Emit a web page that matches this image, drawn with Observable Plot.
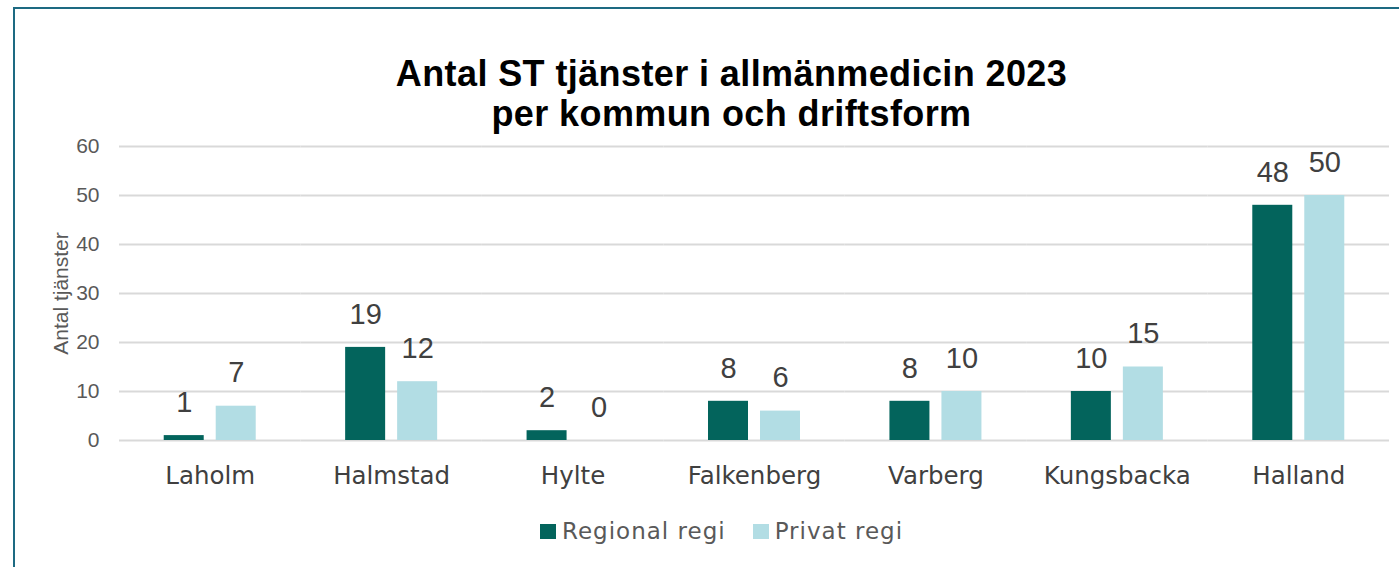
<!DOCTYPE html>
<html>
<head>
<meta charset="utf-8">
<script src="https://cdn.jsdelivr.net/npm/d3@7"></script>
<script src="https://cdn.jsdelivr.net/npm/@observablehq/plot@0.6"></script>
<style>
  html, body { margin: 0; padding: 0; background: #fff; }
  #wrap { position: relative; width: 1399px; height: 567px; overflow: hidden; background: #fff; }
  #frame { position: absolute; left: 13px; top: 7px; width: 1420px; height: 620px; border: 2px solid #1d6a82; box-sizing: border-box; }
  #title { position: absolute; left: 0; top: 54px; width: 1463px; text-align: center;
           font-family: "Liberation Sans", Arial, sans-serif; font-weight: bold; font-size: 36px; line-height: 40px; color: #000; letter-spacing: 0.4px; }
  #chart { position: absolute; left: 0; top: 130px; }
  #legend { position: absolute; left: 540px; top: 515px; height: 32px; display: flex; align-items: center;
            font-family: "DejaVu Sans", sans-serif; font-size: 23px; color: #595959; letter-spacing: 1px; }
  .sw { width: 16px; height: 15px; margin-right: 6px; }
  .item { display: flex; align-items: center; margin-right: 27px; }
</style>
</head>
<body>
<div id="wrap">
  <div id="frame"></div>
  <div id="title">Antal ST tjänster i allmänmedicin 2023<br>per kommun och driftsform</div>
  <div id="chart"></div>
  <div id="legend"></div>
</div>
<script>
const categories = ["Laholm", "Halmstad", "Hylte", "Falkenberg", "Varberg", "Kungsbacka", "Halland"];
const series = ["Regional regi", "Privat regi"];
const regional = [1, 19, 2, 8, 8, 10, 48];
const privat = [7, 12, 0, 6, 10, 15, 50];
const yTicks = [0, 10, 20, 30, 40, 50, 60];
const colors = ["#03645c", "#b2dde4"];
const yLabel = "Antal tjänster";

const table = [];
categories.forEach((c, i) => {
  table.push({kommun: c, regi: series[0], value: regional[i]});
  table.push({kommun: c, regi: series[1], value: privat[i]});
});

const chart = Plot.plot({
  width: 1399,
  height: 370,
  marginLeft: 119,
  marginRight: 10,
  marginTop: 16,
  marginBottom: 60,
  style: {background: "transparent"},
  fx: {domain: categories, paddingInner: 0, paddingOuter: 0, round: false, label: null},
  x: {domain: series, paddingInner: 0.2308, paddingOuter: 0.86, round: false, axis: null},
  y: {domain: [0, 60], label: null},
  color: {domain: series, range: colors},
  marks: [
    Plot.gridY(yTicks, {stroke: "#d9d9d9", strokeOpacity: 1, strokeWidth: 2}),
    Plot.axisY({ticks: yTicks, tickSize: 0, tickPadding: 20, fontSize: 21, fill: "#595959",
                label: yLabel, labelAnchor: "center", labelArrow: "none", labelOffset: 66,
                fontFamily: "Liberation Sans, Arial, sans-serif"}),
    Plot.axisFx({anchor: "bottom", tickSize: 0, tickPadding: 26, fontSize: 24.5, fill: "#404040",
                 label: null, fontFamily: "DejaVu Sans, sans-serif"}),
    Plot.barY(table, {fx: "kommun", x: "regi", y: "value", fill: "regi"}),
    Plot.text(table, {fx: "kommun", x: "regi", y: "value", text: d => String(d.value),
                      dy: -33, lineAnchor: "middle", fontSize: 29, fill: "#404040",
                      fontFamily: "Liberation Sans, Arial, sans-serif"})
  ]
});
document.getElementById("chart").appendChild(chart);

const legend = document.getElementById("legend");
series.forEach((s, i) => {
  const item = document.createElement("div");
  item.className = "item";
  const sw = document.createElement("div");
  sw.className = "sw";
  sw.style.background = colors[i];
  const t = document.createElement("span");
  t.textContent = s;
  item.appendChild(sw);
  item.appendChild(t);
  legend.appendChild(item);
});
</script>
</body>
</html>
